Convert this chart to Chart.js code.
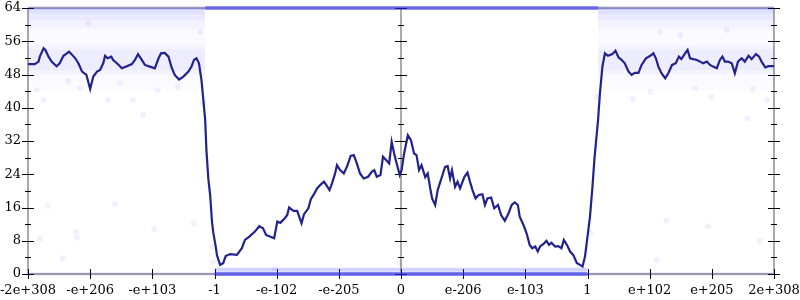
<!DOCTYPE html>
<html>
<head>
<meta charset="utf-8">
<script src="https://cdn.jsdelivr.net/npm/chart.js@4/dist/chart.umd.min.js"></script>
<style>
  html, body { margin: 0; padding: 0; background: #fff; }
</style>
</head>
<body>
<canvas id="chart" width="800" height="300"></canvas>
<script>
// axis labels
const xTickLabels = ['-2e+308', '-e+206', '-e+103', '-1', '-e-102', '-e-205', '0', 'e-206', 'e-103', '1', 'e+102', 'e+205', '2e+308'];
const xTicks = [0, 1, 2, 3, 4, 5, 6, 7, 8, 9, 10, 11, 12];
const yTicks = [0, 8, 16, 24, 32, 40, 48, 56, 64];
const yMinorTicks = [4, 12, 20, 28, 36, 44, 52, 60];

// smoothed line (x in tick units)
const lineX = [0.00, 0.11, 0.17, 0.19, 0.25, 0.28, 0.33, 0.38, 0.46, 0.51, 0.57, 0.61, 0.66, 0.70, 0.76, 0.81, 0.87, 0.94, 1.00, 1.05,
  1.11, 1.16, 1.21, 1.24, 1.28, 1.34, 1.37, 1.43, 1.51, 1.59, 1.67, 1.72, 1.77, 1.83, 1.88, 1.96, 2.04, 2.10, 2.14, 2.20,
  2.26, 2.31, 2.36, 2.43, 2.50, 2.58, 2.63, 2.67, 2.71, 2.75, 2.79, 2.82, 2.85, 2.87, 2.90, 2.93, 2.96, 2.98, 3.02, 3.04,
  3.09, 3.14, 3.18, 3.25, 3.36, 3.40, 3.44, 3.49, 3.56, 3.65, 3.72, 3.78, 3.83, 3.89, 3.96, 4.01, 4.06, 4.13, 4.17, 4.20,
  4.27, 4.33, 4.40, 4.44, 4.51, 4.55, 4.60, 4.65, 4.70, 4.76, 4.80, 4.85, 4.89, 4.94, 4.97, 5.02, 5.08, 5.13, 5.19, 5.24,
  5.29, 5.34, 5.40, 5.47, 5.53, 5.57, 5.61, 5.67, 5.71, 5.76, 5.81, 5.85, 5.89, 5.93, 5.98, 6.01, 6.05, 6.11, 6.16, 6.21,
  6.25, 6.29, 6.33, 6.39, 6.43, 6.47, 6.50, 6.55, 6.59, 6.65, 6.71, 6.75, 6.79, 6.82, 6.87, 6.91, 6.95, 7.02, 7.07, 7.11,
  7.15, 7.20, 7.25, 7.31, 7.35, 7.39, 7.45, 7.50, 7.56, 7.61, 7.67, 7.73, 7.78, 7.83, 7.88, 7.91, 7.97, 8.02, 8.07, 8.11,
  8.16, 8.20, 8.24, 8.29, 8.34, 8.38, 8.42, 8.48, 8.53, 8.58, 8.62, 8.67, 8.72, 8.77, 8.83, 8.88, 8.92, 8.96, 9.00, 9.04,
  9.08, 9.11, 9.15, 9.17, 9.20, 9.24, 9.28, 9.33, 9.40, 9.45, 9.50, 9.55, 9.60, 9.66, 9.71, 9.76, 9.82, 9.87, 9.94, 10.01,
  10.06, 10.10, 10.14, 10.19, 10.25, 10.30, 10.36, 10.42, 10.47, 10.51, 10.57, 10.61, 10.65, 10.70, 10.76, 10.81, 10.86, 10.92, 10.97, 11.02,
  11.08, 11.13, 11.17, 11.21, 11.26, 11.32, 11.37, 11.42, 11.48, 11.53, 11.59, 11.64, 11.71, 11.76, 11.80, 11.86, 11.91, 12.00];
const lineY = [50.5, 50.5, 51.1, 52.3, 54.3, 53.9, 52.3, 51.1, 50.0, 50.7, 52.5, 52.9, 53.5, 52.9, 51.9, 50.7, 48.7, 47.9, 44.5, 47.5,
  48.7, 49.1, 50.7, 52.5, 51.9, 52.3, 51.5, 50.7, 49.5, 50.0, 50.5, 51.5, 52.9, 51.5, 50.3, 49.9, 49.5, 51.9, 53.1, 53.2,
  52.3, 49.7, 47.9, 46.8, 47.5, 48.7, 49.9, 51.5, 51.9, 50.7, 46.7, 42.0, 37.1, 29.8, 23.0, 19.0, 12.5, 10.0, 6.6, 4.5,
  2.2, 2.6, 4.3, 4.8, 4.6, 5.4, 6.2, 8.2, 9.0, 10.2, 11.5, 11.0, 9.4, 9.0, 8.6, 12.6, 12.3, 13.4, 14.2, 16.0,
  15.2, 15.2, 12.2, 14.4, 15.8, 18.0, 19.2, 20.6, 21.4, 22.2, 21.4, 20.2, 21.8, 24.2, 26.2, 25.0, 24.2, 25.8, 28.4, 28.6,
  26.6, 24.2, 23.0, 23.4, 24.6, 25.0, 23.4, 23.8, 28.2, 27.4, 26.6, 31.8, 29.0, 26.6, 23.8, 25.0, 29.0, 33.4, 32.2, 29.0,
  28.6, 25.0, 26.2, 23.3, 24.2, 20.6, 18.2, 16.6, 20.2, 23.0, 25.8, 26.0, 23.0, 25.0, 21.0, 22.2, 20.6, 23.4, 24.4, 22.2,
  20.2, 18.2, 19.0, 19.2, 16.6, 18.2, 18.4, 15.8, 16.6, 14.2, 12.8, 14.6, 16.6, 17.2, 16.6, 13.8, 11.8, 9.8, 7.0, 6.2,
  6.6, 5.4, 6.7, 7.2, 8.0, 7.0, 7.5, 6.6, 6.7, 6.2, 8.2, 7.0, 5.4, 4.6, 2.6, 2.2, 1.8, 4.2, 9.0, 13.8,
  21.0, 27.4, 33.9, 37.1, 43.5, 49.9, 53.1, 52.5, 52.9, 53.7, 52.1, 51.5, 50.7, 48.7, 47.9, 48.4, 48.4, 50.3, 51.9, 52.5,
  53.1, 51.9, 49.9, 48.3, 47.1, 48.3, 50.3, 50.7, 52.3, 51.7, 53.1, 53.9, 51.9, 51.7, 51.5, 51.1, 50.7, 51.1, 50.3, 49.9,
  49.5, 51.5, 52.3, 51.1, 51.1, 50.7, 48.3, 51.1, 51.9, 51.1, 52.5, 51.7, 52.9, 52.3, 51.1, 49.7, 50.0, 50.0];

// scattered raw samples that stand apart from the dense clouds
const outlierX = [0.14, 0.25, 0.65, 0.84, 0.97, 1.29, 1.48, 1.69, 1.85, 2.09, 2.41, 2.77, 2.81, 0.19, 0.32, 0.56, 0.77, 0.79, 1.40, 2.03,
  2.67, 2.96, 2.98, 3.97, 5.98, 10.27, 10.94, 11.77, 10.11, 9.04, 9.73, 10.01, 10.73, 10.99, 11.57, 11.66, 11.89, 9.15, 10.17, 10.49, 11.24];
const outlierY = [44.3, 41.9, 46.3, 44.7, 60.3, 41.9, 45.9, 41.9, 38.3, 44.3, 45.1, 58.3, 41.1, 8.4, 16.4, 3.8, 10.1, 8.7, 16.8, 10.8,
  12.2, 6.5, 2.9, 1.4, 2.6, 12.8, 11.5, 8.0, 3.4, 9.8, 42.1, 43.8, 44.7, 42.6, 37.5, 44.5, 41.9, 42.6, 58.2, 57.5, 58.7];

// dense sample clouds: x extents and [upper, lower] value ranges
const sideLeftX = [0, 2.85];
const sideRightX = [9.17, 12];
const middleTopX = [2.85, 9.17];
const middleBottomX = [3.0, 9.0];
const bottomLeftX = [0, 3.0];
const bottomRightX = [9.0, 12];
const topClouds = [[64, 62.5], [64, 61], [64, 59], [62, 56]];
const midClouds = [[54, 49], [55, 48], [56, 46.5], [57, 44]];

const pts = (xs, ys) => xs.map((x, i) => ({ x: x, y: ys[i] }));
const flat = (xs, v) => xs.map(x => ({ x: x, y: v }));

function band(xs, range, color) {
  return [
    { data: flat(xs, range[0]), borderColor: 'rgba(0,0,0,0)', borderWidth: 0, pointRadius: 0, backgroundColor: color, fill: '+1' },
    { data: flat(xs, range[1]), borderColor: 'rgba(0,0,0,0)', borderWidth: 0, pointRadius: 0, fill: false }
  ];
}

function strip(xs, v, width, color) {
  return { data: flat(xs, v), borderColor: color, borderWidth: width, pointRadius: 0, fill: false, clip: 6 };
}

const topAlpha = [0.06, 0.05, 0.035, 0.02];
const midAlpha = [0.03, 0.025, 0.02, 0.012];
const clouds = [];
[sideLeftX, sideRightX].forEach(xs => {
  topClouds.forEach((r, i) => clouds.push(...band(xs, r, 'rgba(40,40,255,' + topAlpha[i] + ')')));
  midClouds.forEach((r, i) => clouds.push(...band(xs, r, 'rgba(40,40,255,' + midAlpha[i] + ')')));
});

const axesPlugin = {
  id: 'axes',
  beforeDatasetsDraw(chart) {
    const { ctx, chartArea: a, scales: { x, y } } = chart;
    const cx = x.getPixelForValue(6);
    ctx.save();
    ctx.strokeStyle = '#aaaaaa';
    ctx.lineWidth = 2;
    ctx.beginPath();
    ctx.moveTo(a.left, a.top); ctx.lineTo(a.right, a.top);
    ctx.moveTo(a.left, a.bottom); ctx.lineTo(a.right, a.bottom);
    ctx.moveTo(a.left, a.top); ctx.lineTo(a.left, a.bottom);
    ctx.moveTo(a.right, a.top); ctx.lineTo(a.right, a.bottom);
    ctx.moveTo(cx, a.top); ctx.lineTo(cx, a.bottom);
    ctx.stroke();

    ctx.strokeStyle = '#000';
    ctx.lineWidth = 1;
    ctx.beginPath();
    [a.left, cx, a.right].forEach(px => {
      yTicks.forEach(v => {
        const py = Math.round(y.getPixelForValue(v)) + 0.5;
        ctx.moveTo(px - 6, py); ctx.lineTo(px + 6, py);
      });
      yMinorTicks.forEach(v => {
        const py = Math.round(y.getPixelForValue(v)) + 0.5;
        ctx.moveTo(px - 3, py); ctx.lineTo(px + 3, py);
      });
    });
    xTicks.forEach(v => {
      const px = Math.round(x.getPixelForValue(v)) + 0.5;
      ctx.moveTo(px, a.bottom - 5); ctx.lineTo(px, a.bottom + 5);
    });
    ctx.stroke();
    ctx.restore();
  }
};

const tickFont = { family: 'DejaVu Serif', size: 13 };

new Chart(document.getElementById('chart'), {
  type: 'line',
  data: {
    datasets: [
      { data: pts(lineX, lineY), borderColor: '#22228e', borderWidth: 2.2, pointRadius: 0, tension: 0, fill: false },
      { type: 'scatter', data: pts(outlierX, outlierY), pointRadius: 3, borderWidth: 0, backgroundColor: 'rgba(0,0,255,0.06)' },
      strip(middleTopX, 64, 4, 'rgba(50,50,255,0.55)'),
      strip(middleBottomX, 0, 4, 'rgba(50,50,255,0.6)'),
      strip(middleBottomX, 1, 4, 'rgba(80,80,255,0.25)'),
      strip(bottomLeftX, 0, 3, 'rgba(60,60,255,0.15)'),
      strip(bottomRightX, 0, 3, 'rgba(60,60,255,0.15)'),
      strip(sideLeftX, 64, 4, 'rgba(60,60,255,0.15)'),
      strip(sideRightX, 64, 4, 'rgba(60,60,255,0.15)'),
      ...clouds
    ]
  },
  options: {
    responsive: false,
    animation: false,
    layout: { padding: { top: 8, right: 26, left: 0, bottom: 0 } },
    plugins: { legend: { display: false }, tooltip: { enabled: false } },
    scales: {
      x: {
        type: 'linear', min: 0, max: 12,
        grid: { display: false, drawTicks: false },
        border: { display: false },
        afterBuildTicks: s => { s.ticks = xTicks.map(v => ({ value: v })); },
        afterFit: s => { s.height = 26; s.paddingLeft = 0; s.paddingRight = 0; },
        ticks: {
          font: tickFont, color: '#000', padding: 9,
          autoSkip: false, maxRotation: 0, minRotation: 0,
          callback: v => xTickLabels[Math.round(v)]
        }
      },
      y: {
        min: 0, max: 64,
        grid: { display: false, drawTicks: false },
        border: { display: false },
        afterBuildTicks: s => { s.ticks = yTicks.map(v => ({ value: v })); },
        afterFit: s => { s.width = 28; s.paddingTop = 0; s.paddingBottom = 0; },
        ticks: { font: tickFont, color: '#000', padding: 7 }
      }
    }
  },
  plugins: [axesPlugin]
});
</script>
</body>
</html>
